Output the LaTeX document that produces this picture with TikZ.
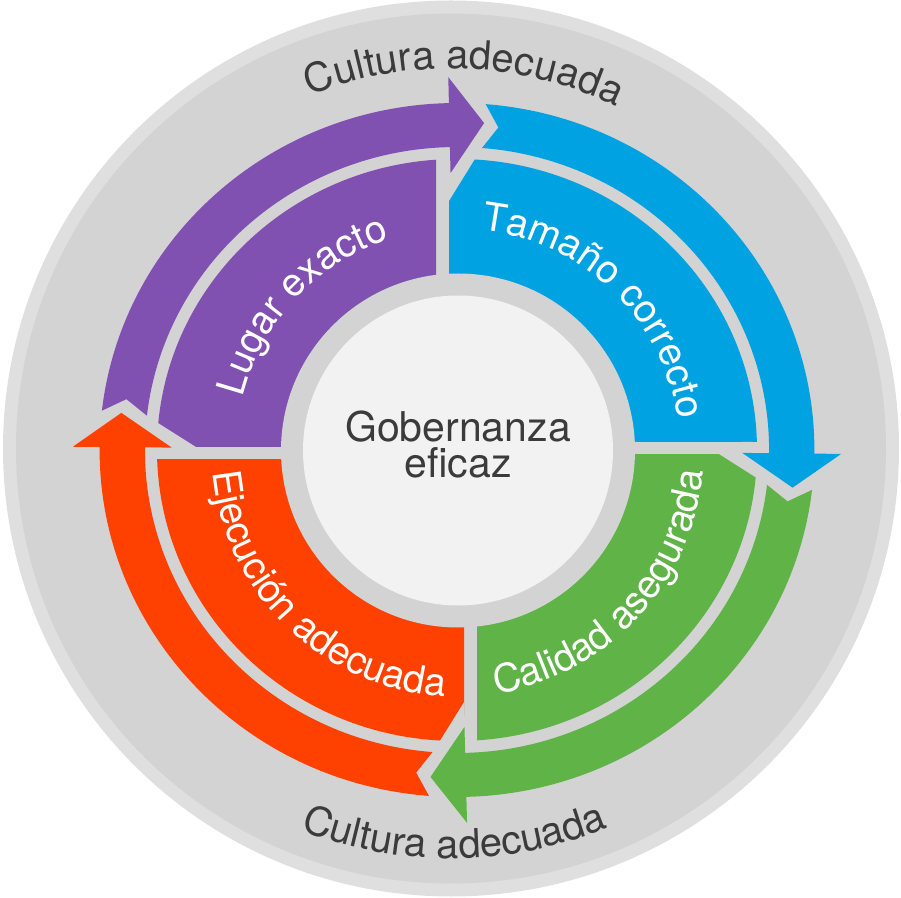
\documentclass[tikz,border=0pt]{standalone}
\usepackage{fontspec}
\setmainfont{TeX Gyre Heros}
\usepackage{tikz}
\usetikzlibrary{calc,decorations.text}

\definecolor{rimgray}{HTML}{DFDFDF}
\definecolor{bggray}{HTML}{D3D3D3}
\definecolor{hubwhite}{HTML}{F2F2F2}
\definecolor{ink}{HTML}{3B3B3B}
\definecolor{lugarcol}{HTML}{8051B1}
\definecolor{tamanocol}{HTML}{00A2E1}
\definecolor{calidadcol}{HTML}{60B347}
\definecolor{ejecucol}{HTML}{FF4100}

\newcommand{\cyclearrow}[4]{%
  \path[#1] (#2:347) -- ({#2-2.5}:325) -- (#2:303)
    arc[start angle=#2, end angle=#3, radius=303] -- (#3:277) -- (#4:328)
    -- (#3:373) -- (#3:347) arc[start angle=#3, end angle=#2, radius=347] -- cycle;}

\begin{document}
\begin{tikzpicture}[x=1pt,y=1pt,
   halo/.style={draw=bggray,fill=bggray,line width=22pt,line join=round},
   notch/.style={halo,shift={(hub)},xscale=1.03},
   sectorlabel/.style={decorate,decoration={text along path,text align=center,
      text color=white,text={|\fontsize{39}{39}\selectfont|#1}}},
   rimlabel/.style={decorate,decoration={text along path,text align=center,
      text color=ink,text={|\fontsize{40}{40}\selectfont|#1}}}]
   \useasboundingbox (0,0) rectangle (901,897);
   \coordinate (rim) at (451,448.5);
   \coordinate (hub) at (457,447);
   \coordinate (core) at (458,446.5);

   \fill[rimgray] (rim) circle[radius=448];
   \fill[bggray] (rim) circle[radius=435];

   \begin{scope}
      \clip (0,450) rectangle (436,897);
      \fill[lugarcol] (hub) ellipse[x radius=300,y radius=291];
      \draw[notch] (173.5:328) -- (181.9:256);
   \end{scope}
   \begin{scope}
      \clip (449,455) rectangle (901,897);
      \fill[tamanocol] (hub) ellipse[x radius=300,y radius=291];
      \draw[notch] (85.4:328) -- (93.7:256);
   \end{scope}
   \begin{scope}
      \clip (477,0) rectangle (901,442);
      \fill[calidadcol] (hub) ellipse[x radius=300,y radius=291];
      \draw[notch] (-6.6:328) -- (1.8:256);
   \end{scope}
   \begin{scope}
      \clip (0,0) rectangle (464,437);
      \fill[ejecucol] (hub) ellipse[x radius=300,y radius=291];
      \draw[notch] (-94.5:328) -- (-86.1:256);
   \end{scope}

   \begin{scope}[shift={(hub)},xscale=1.03]
      \cyclearrow{halo}{173.5}{91.3}{85.4}
      \cyclearrow{halo}{85.4}{-0.6}{-6.6}
      \cyclearrow{halo}{-6.6}{-88.5}{-94.5}
      \cyclearrow{halo}{265.5}{179.5}{173.5}
      \cyclearrow{fill=lugarcol}{173.5}{91.3}{85.4}
      \cyclearrow{fill=tamanocol}{85.4}{-0.6}{-6.6}
      \cyclearrow{fill=calidadcol}{-6.6}{-88.5}{-94.5}
      \cyclearrow{fill=ejecucol}{265.5}{179.5}{173.5}
   \end{scope}

   \fill[bggray] (core) circle[radius=177];
   \fill[hubwhite] (core) circle[radius=155];
   \node[align=center,text=ink,font=\fontsize{41}{36}\selectfont] (gob) at (458,452.5) {Gobernanza\\eficaz};

   \path[sectorlabel={Lugar exacto}] ($(core)+(197:222)$) arc[start angle=197,end angle=77,radius=222];
   \path[sectorlabel={Tamaño correcto}] ($(core)+(106:222)$) arc[start angle=106,end angle=-14,radius=222];
   \path[sectorlabel={Calidad asegurada}] ($(core)+(-103:246)$) arc[start angle=-103,end angle=17,radius=246];
   \path[sectorlabel={Ejecución adecuada}] ($(core)+(166:246)$) arc[start angle=166,end angle=286,radius=246];

   \path[rimlabel={Cultura adecuada}] ($(rim)+(138:380)$) arc[start angle=138,end angle=38,radius=380];
   \path[rimlabel={Cultura adecuada}] ($(rim)+(220.5:410)$) arc[start angle=220.5,end angle=320.5,radius=410];
\end{tikzpicture}
\end{document}
